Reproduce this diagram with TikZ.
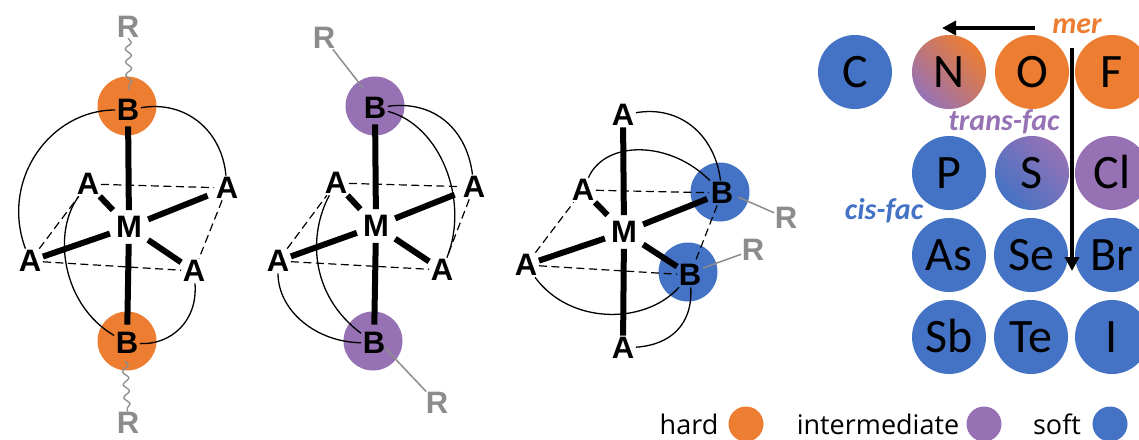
\documentclass[tikz,border=0pt]{standalone}
\usepackage{fontspec}
\setmainfont{Carlito}
\setsansfont{Liberation Sans}
\newfontfamily\legendfont{Open Sans}
\usetikzlibrary{arrows.meta,decorations.pathmorphing}
\definecolor{hardcol}{HTML}{ED7D31}
\definecolor{midcol}{HTML}{9672B5}
\definecolor{softcol}{HTML}{4472C4}
\definecolor{rcol}{HTML}{8C8C8C}
\tikzset{
	atomlabel/.style={font=\fontsize{31}{31}\sffamily\bfseries\selectfont, text=black, inner sep=1.5pt},
	metal/.style={atomlabel, inner sep=6pt},
	rlabel/.style={atomlabel, text=rcol, inner sep=0.5pt},
	ligand/.style={circle, minimum size=59pt, inner sep=0pt},
	bond/.style={line width=6pt},
	edge/.style={dashed, dash pattern=on 8pt off 4.5pt, line width=1.2pt},
	chelate/.style={line width=1.3pt},
	rbond/.style={rcol, line width=1.5pt},
	rwave/.style={rcol, line width=1.3pt, decorate, decoration={snake, amplitude=3pt, segment length=13pt}},
	element/.style={circle, minimum size=74pt, inner sep=0pt, text=black, text height=31pt, text depth=0pt, font=\fontsize{48}{48}\selectfont},
	keydot/.style={circle, minimum size=35pt, inner sep=0pt},
	keytext/.style={anchor=base, inner sep=0pt, font=\fontsize{27}{27}\legendfont\selectfont},
	tag/.style={inner sep=0pt, font=\fontsize{30}{30}\bfseries\itshape\selectfont},
	bigarrow/.style={line width=4.5pt, -{Triangle[length=14pt,width=14pt]}}
}
\begin{document}
\begin{tikzpicture}[x=1pt, y=-1pt]
	\useasboundingbox (0,0) rectangle (1139,439);

	% complex 1, mer
	\node[ligand, fill=hardcol] (c1top) at (127,106) {};
	\node[ligand, fill=hardcol] (c1bot) at (127,341) {};
	\coordinate (w1top) at (129,90);
	\coordinate (w1bot) at (125,361);
	\node[rlabel] (r1top) at (128,27) {R};
	\node[rlabel] (r1bot) at (128,423) {R};
	\node[atomlabel] (b1top) at (128,110) {B};
	\node[atomlabel] (b1bot) at (127,343) {B};
	\node[metal] (m1) at (129,227) {M};
	\node[atomlabel] (a1tl) at (88,184) {A};
	\node[atomlabel] (a1tr) at (227,188) {A};
	\node[atomlabel] (a1l) at (30,261) {A};
	\node[atomlabel] (a1br) at (194,271) {A};
	\draw[rwave] (r1top) -- (w1top);
	\draw[rwave] (w1bot) -- (r1bot);
	\draw[bond, shorten >=4pt] (m1) -- (b1top);
	\draw[bond, shorten >=6pt] (m1) -- (b1bot);
	\draw[bond] (m1) -- (a1tl);
	\draw[bond, shorten >=7pt] (m1) -- (a1tr);
	\draw[bond] (m1) -- (a1l);
	\draw[bond] (m1) -- (a1br);
	\draw[edge] (a1tl) -- (a1tr);
	\draw[edge] (a1l) -- (a1br);
	\draw[edge] (a1l) -- (a1tl);
	\draw[edge] (a1tr) -- (a1br);
	\draw[chelate] (b1top) .. controls (50,110) and (0,180) .. (a1l);
	\draw[chelate] (b1top) .. controls (185,100) and (222,130) .. (a1tr);
	\draw[chelate] (a1tl) .. controls (52,232) and (62,305) .. (b1bot);
	\draw[chelate] (a1br) .. controls (198,322) and (170,345) .. (b1bot);

	% complex 2, trans-fac
	\node[ligand, fill=midcol] (c2top) at (375,106) {};
	\node[ligand, fill=midcol] (c2bot) at (373,341) {};
	\coordinate (w2top) at (363,88);
	\coordinate (w2bot) at (385,348);
	\node[rlabel] (r2top) at (324,38) {R};
	\node[rlabel] (r2bot) at (437,403) {R};
	\node[atomlabel] (b2top) at (375,108) {B};
	\node[atomlabel] (b2bot) at (374,343) {B};
	\node[metal] (m2) at (376,226) {M};
	\node[atomlabel] (a2tl) at (336,183) {A};
	\node[atomlabel] (a2tr) at (474,187) {A};
	\node[atomlabel] (a2l) at (278,261) {A};
	\node[atomlabel] (a2br) at (442,270) {A};
	\draw[rbond] (r2top) -- (w2top);
	\draw[rbond] (w2bot) -- (r2bot);
	\draw[bond, shorten >=4pt] (m2) -- (b2top);
	\draw[bond, shorten >=6pt] (m2) -- (b2bot);
	\draw[bond] (m2) -- (a2tl);
	\draw[bond, shorten >=7pt] (m2) -- (a2tr);
	\draw[bond] (m2) -- (a2l);
	\draw[bond] (m2) -- (a2br);
	\draw[edge] (a2tl) -- (a2tr);
	\draw[edge] (a2l) -- (a2br);
	\draw[edge] (a2l) -- (a2tl);
	\draw[edge] (a2tr) -- (a2br);
	\draw[chelate] (b2top) .. controls (435,100) and (467,130) .. (a2tr);
	\draw[chelate] (b2top) .. controls (440,125) and (470,200) .. (a2br);
	\draw[chelate] (a2tl) .. controls (308,235) and (310,295) .. (b2bot);
	\draw[chelate] (a2l) .. controls (278,310) and (315,342) .. (b2bot);

	% complex 3, cis-fac
	\node[ligand, fill=softcol] (c3up) at (720,192) {};
	\node[ligand, fill=softcol] (c3low) at (688,272) {};
	\coordinate (w3up) at (738,197);
	\coordinate (w3low) at (703,268);
	\node[rlabel] (r3up) at (786,218) {R};
	\node[rlabel] (r3low) at (753,250) {R};
	\node[atomlabel] (b3up) at (722,193) {B};
	\node[atomlabel] (b3low) at (690,275) {B};
	\node[metal] (m3) at (624,232) {M};
	\node[atomlabel] (a3top) at (623,115) {A};
	\node[atomlabel] (a3bot) at (623,348) {A};
	\node[atomlabel] (a3tl) at (583,190) {A};
	\node[atomlabel] (a3l) at (526,265) {A};
	\draw[rbond] (r3up) -- (w3up);
	\draw[rbond] (r3low) -- (w3low);
	\draw[bond] (m3) -- (a3top);
	\draw[bond] (m3) -- (a3bot);
	\draw[bond] (m3) -- (a3tl);
	\draw[bond] (m3) -- (a3l);
	\draw[bond, shorten >=2pt] (m3) -- (b3up);
	\draw[bond] (m3) -- (b3low);
	\draw[edge] (a3tl) -- (b3up);
	\draw[edge] (a3l) -- (b3low);
	\draw[edge] (a3l) -- (a3tl);
	\draw[edge] (b3up) -- (b3low);
	\draw[chelate] (a3top) .. controls (680,105) and (715,135) .. (b3up);
	\draw[chelate] (a3tl) .. controls (605,140) and (670,140) .. (b3up);
	\draw[chelate] (a3l) .. controls (570,325) and (645,325) .. (b3low);
	\draw[chelate] (a3bot) .. controls (670,345) and (693,325) .. (b3low);

	% elements
	\foreach \x/\y/\el/\col in {855/72/C/softcol, 1032/72/O/hardcol, 1112/72/F/hardcol,
		949/173/P/softcol, 1112/173/Cl/midcol,
		949/255/As/softcol, 1031/255/Se/softcol, 1112/255/Br/softcol,
		949/337/Sb/softcol, 1031/337/Te/softcol, 1112/337/I/softcol}
		\node[element, fill=\col] (el\el) at (\x,\y) {\el};
	\node[element, top color=hardcol, bottom color=midcol, shading angle=-45] (elN) at (949,72) {N};
	\node[element, top color=midcol, bottom color=softcol, shading angle=-45] (elS) at (1032,173) {S};

	% tags and arrows
	\node[tag, text=hardcol] (mer) at (1077,26) {mer};
	\node[tag, text=midcol] (transfac) at (1004,122) {trans-fac};
	\node[tag, text=softcol] (cisfac) at (884,211) {cis-fac};
	\coordinate (merleft0) at (1035,28);
	\coordinate (merleft1) at (942,28);
	\coordinate (merdown0) at (1072,48);
	\coordinate (merdown1) at (1072,271);
	\draw[bigarrow] (merleft0) -- (merleft1);
	\draw[bigarrow] (merdown0) -- (merdown1);

	% legend
	\node[keytext] (hardtext) at (689,434) {hard};
	\node[keydot, fill=hardcol] (harddot) at (746,424) {};
	\node[keytext] (midtext) at (878,434) {intermediate};
	\node[keydot, fill=midcol] (middot) at (984,424) {};
	\node[keytext] (softtext) at (1057,434) {soft};
	\node[keydot, fill=softcol] (softdot) at (1110,424) {};
\end{tikzpicture}
\end{document}
